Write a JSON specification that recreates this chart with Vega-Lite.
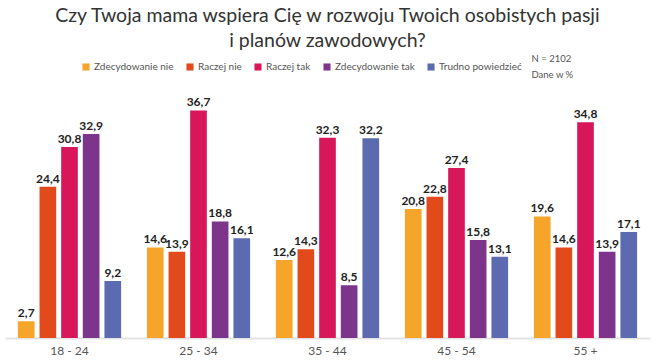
{
  "$schema": "https://vega.github.io/schema/vega-lite/v6.json",
  "width": 645,
  "height": 248,
  "autosize": "none",
  "padding": {"left": 5, "top": 90, "right": 5, "bottom": 26},
  "config": {
    "locale": {"number": {"decimal": ",", "thousands": " ", "grouping": [3], "currency": ["", " zł"]}},
    "view": {"stroke": null},
    "font": "Lato"
  },
  "title": {
    "text": ["Czy Twoja mama wspiera Cię w rozwoju Twoich osobistych pasji", "i planów zawodowych?"],
    "font": "Lato",
    "fontSize": 19.5,
    "fontWeight": "normal",
    "color": "#333333",
    "anchor": "middle",
    "lineHeight": 25,
    "offset": 3
  },
  "datasets": {
    "bars": [
      {"age": "18 - 24", "cat": "Zdecydowanie nie", "value": 2.7},
      {"age": "18 - 24", "cat": "Raczej nie", "value": 24.4},
      {"age": "18 - 24", "cat": "Raczej tak", "value": 30.8},
      {"age": "18 - 24", "cat": "Zdecydowanie tak", "value": 32.9},
      {"age": "18 - 24", "cat": "Trudno powiedzieć", "value": 9.2},
      {"age": "25 - 34", "cat": "Zdecydowanie nie", "value": 14.6},
      {"age": "25 - 34", "cat": "Raczej nie", "value": 13.9},
      {"age": "25 - 34", "cat": "Raczej tak", "value": 36.7},
      {"age": "25 - 34", "cat": "Zdecydowanie tak", "value": 18.8},
      {"age": "25 - 34", "cat": "Trudno powiedzieć", "value": 16.1},
      {"age": "35 - 44", "cat": "Zdecydowanie nie", "value": 12.6},
      {"age": "35 - 44", "cat": "Raczej nie", "value": 14.3},
      {"age": "35 - 44", "cat": "Raczej tak", "value": 32.3},
      {"age": "35 - 44", "cat": "Zdecydowanie tak", "value": 8.5},
      {"age": "35 - 44", "cat": "Trudno powiedzieć", "value": 32.2},
      {"age": "45 - 54", "cat": "Zdecydowanie nie", "value": 20.8},
      {"age": "45 - 54", "cat": "Raczej nie", "value": 22.8},
      {"age": "45 - 54", "cat": "Raczej tak", "value": 27.4},
      {"age": "45 - 54", "cat": "Zdecydowanie tak", "value": 15.8},
      {"age": "45 - 54", "cat": "Trudno powiedzieć", "value": 13.1},
      {"age": "55 +", "cat": "Zdecydowanie nie", "value": 19.6},
      {"age": "55 +", "cat": "Raczej nie", "value": 14.6},
      {"age": "55 +", "cat": "Raczej tak", "value": 34.8},
      {"age": "55 +", "cat": "Zdecydowanie tak", "value": 13.9},
      {"age": "55 +", "cat": "Trudno powiedzieć", "value": 17.1}
    ],
    "note": [{"age": "55 +", "y": 45, "label": ["N = 2102", "Dane w %"]}]
  },
  "layer": [
    {
      "data": {"name": "bars"},
      "mark": {"type": "bar"},
      "encoding": {
        "x": {
          "field": "age", "type": "nominal", "sort": null,
          "scale": {"paddingInner": 0.2, "paddingOuter": 0.1},
          "axis": {"title": null, "labelAngle": 0, "ticks": false, "domainColor": "#e3e3e3", "domainWidth": 2, "labelColor": "#555555", "labelFontSize": 12, "labelPadding": 7, "labelFont": "Lato"}
        },
        "xOffset": {"field": "cat", "type": "nominal", "sort": null, "scale": {"paddingInner": 0.23, "paddingOuter": 0}},
        "y": {"field": "value", "type": "quantitative", "scale": {"domain": [0, 40]}, "axis": null},
        "color": {
          "field": "cat", "type": "nominal", "sort": null,
          "scale": {
            "domain": ["Zdecydowanie nie", "Raczej nie", "Raczej tak", "Zdecydowanie tak", "Trudno powiedzieć"],
            "range": ["#F5A52A", "#E24A1C", "#D8175B", "#7C358B", "#5B6AB1"]
          },
          "legend": {
            "title": null, "orient": "none", "direction": "horizontal", "legendX": 76, "legendY": -28,
            "symbolType": "square", "symbolSize": 50, "labelFontSize": 10, "labelColor": "#555555",
            "columnPadding": 11, "labelOffset": 3, "labelFont": "Lato", "symbolOpacity": 1
          }
        }
      }
    },
    {
      "data": {"name": "bars"},
      "mark": {"type": "text", "dy": -8, "fontWeight": "bold", "fontSize": 12, "color": "#222222", "font": "Lato"},
      "encoding": {
        "x": {"field": "age", "type": "nominal", "sort": null},
        "xOffset": {"field": "cat", "type": "nominal", "sort": null},
        "y": {"field": "value", "type": "quantitative"},
        "text": {"field": "value", "type": "quantitative", "format": ".1f"}
      }
    },
    {
      "data": {"name": "note"},
      "mark": {"type": "text", "align": "left", "baseline": "middle", "fontSize": 9.5, "color": "#555555", "dx": -54, "lineHeight": 16, "font": "Lato"},
      "encoding": {
        "x": {"field": "age", "type": "nominal", "sort": null},
        "y": {"field": "y", "type": "quantitative"},
        "text": {"field": "label"}
      }
    }
  ]
}
